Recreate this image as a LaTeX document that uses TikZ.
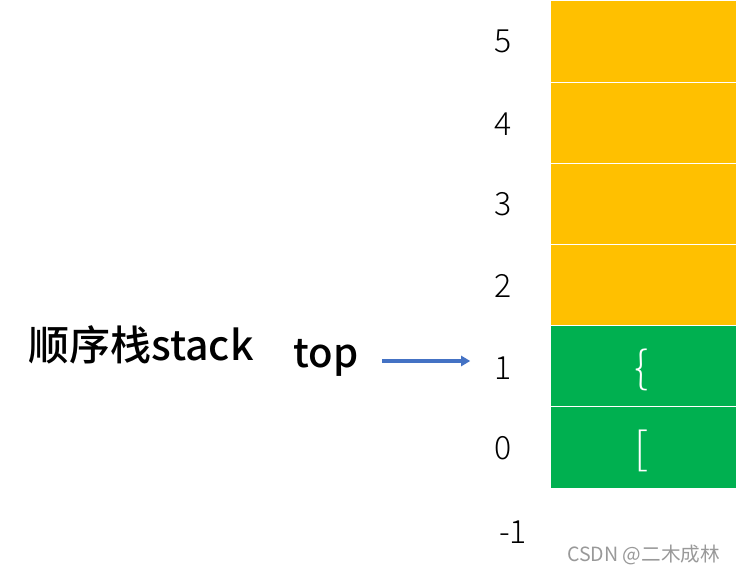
\documentclass[tikz,border=0pt]{standalone}
\usepackage{fontspec}
\setmainfont{Noto Sans CJK SC}
\newfontfamily\lightfont{Noto Sans CJK SC Light}
\newfontfamily\medfont{Noto Sans CJK SC Medium}
\usetikzlibrary{arrows.meta}
\definecolor{gold}{HTML}{FFC000}
\definecolor{grn}{HTML}{00B050}
\definecolor{arrowblue}{HTML}{4472C4}
\begin{document}
\begin{tikzpicture}[x=1pt,y=-1pt,
  cell/.style={draw=white,line width=1pt,minimum width=187pt,minimum height=81.2pt,inner sep=0pt,anchor=center},
  idx/.style={font=\lightfont\fontsize{32}{32}\selectfont,text=black,inner sep=0pt},
  sym/.style={font=\lightfont\fontsize{44}{44}\selectfont,text=white,inner sep=0pt}]
\useasboundingbox (0,0) rectangle (736,575);
\node[cell,fill=gold] (c5) at (643.5,41.5) {};
\node[cell,fill=gold] (c4) at (643.5,122.7) {};
\node[cell,fill=gold] (c3) at (643.5,203.9) {};
\node[cell,fill=gold] (c2) at (643.5,285.1) {};
\node[cell,fill=grn] (c1) at (643.5,366.3) {};
\node[cell,fill=grn] (c0) at (643.5,447.5) {};
\node[sym] (s1) at (641,370) {\{};
\node[sym] (s0) at (641,451) {[};
\node[idx] (l5) at (503,41) {5};
\node[idx] (l4) at (503,124) {4};
\node[idx] (l3) at (503,204) {3};
\node[idx] (l2) at (503,286) {2};
\node[idx] (l1) at (503,368) {1};
\node[idx] (l0) at (503,448) {0};
\node[idx] (lm) at (513,532) {-1};
\node[font=\medfont\fontsize{41}{41}\selectfont,inner sep=0pt,anchor=west] (title) at (28,345) {顺序栈stack};
\node[font=\medfont\fontsize{40}{40}\selectfont,inner sep=0pt,anchor=west] (top) at (293,358) {top};
\draw[arrowblue,line width=3.5pt,-{Triangle[length=9pt,width=10pt]},shorten <=24pt,shorten >=24pt] (top.east |- 0,361) -- (l1.west |- 0,361);
\node[font=\fontsize{19.6}{19.6}\selectfont,text=black!40,inner sep=0pt,anchor=west] (wm) at (567,555) {CSDN @二木成林};
\end{tikzpicture}
\end{document}
